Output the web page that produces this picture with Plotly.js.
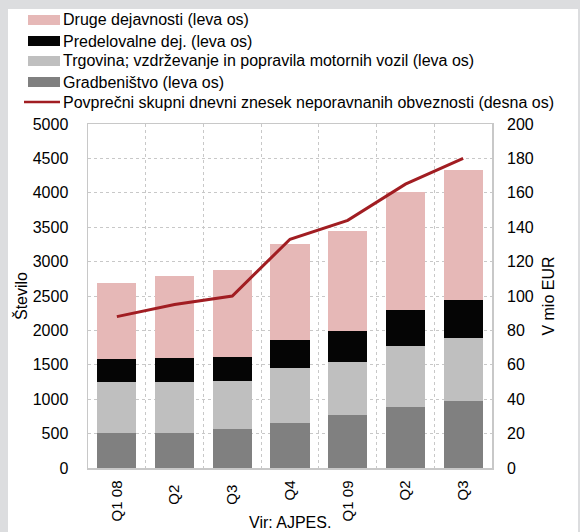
<!DOCTYPE html>
<html>
<head>
<meta charset="utf-8">
<script src="https://cdn.plot.ly/plotly-3.0.1.min.js"></script>
<style>
html,body{margin:0;padding:0;background:#dcdddf;width:580px;height:532px;overflow:hidden;}
#chart{position:absolute;left:8px;top:9px;width:570px;height:523px;background:#fff;}
</style>
</head>
<body>
<div id="chart"></div>
<script>
const categories = ["Q1 08", "Q2 ", "Q3 ", "Q4", "Q1 09", "Q2", "Q3"];
const gradbenistvo = [510, 510, 570, 660, 765, 890, 975];
const trgovina = [735, 735, 700, 795, 770, 880, 920];
const predelovalne = [335, 355, 350, 400, 460, 520, 545];
const druge = [1110, 1190, 1260, 1400, 1450, 1720, 1885];
const povprecni = [88, 95, 100, 133, 144, 165, 180];

const seriesNames = [
  "Druge dejavnosti (leva os)",
  "Predelovalne dej. (leva os)",
  "Trgovina; vzdrževanje in popravila motornih vozil (leva os)",
  "Gradbeništvo (leva os)",
  "Povprečni skupni dnevni znesek neporavnanih obveznosti (desna os)"
];
const colors = ["#e6b8b7", "#050505", "#bfbfbf", "#808080", "#a11d22"];

const font = "Liberation Sans, Arial, sans-serif";
const fs = 16;

const traces = [
  {type:"bar", x:categories, y:gradbenistvo, name:seriesNames[3], marker:{color:colors[3]}, showlegend:false},
  {type:"bar", x:categories, y:trgovina, name:seriesNames[2], marker:{color:colors[2]}, showlegend:false},
  {type:"bar", x:categories, y:predelovalne, name:seriesNames[1], marker:{color:colors[1]}, showlegend:false},
  {type:"bar", x:categories, y:druge, name:seriesNames[0], marker:{color:colors[0]}, showlegend:false},
  {type:"scatter", mode:"lines", x:categories, y:povprecni, yaxis:"y2", name:seriesNames[4], line:{color:colors[4], width:3}, showlegend:false}
];

// Manual legend (swatches + labels), positions in pixels converted to paper coords
const L = 80, T = 115, W = 570 - 80 - 86, H = 523 - 115 - 64;
const px = v => (v - 8 - L) / W;
const py = v => (T + H - (v - 9)) / H;
const shapes = [];
const annotations = [];
const legendY = [20, 41, 61, 82, 102];
for (let i = 0; i < 5; i++) {
  const yc = legendY[i];
  if (i < 4) {
    shapes.push({type:"rect", xref:"paper", yref:"paper", x0:px(28), x1:px(60), y0:py(yc-5), y1:py(yc+5), fillcolor:colors[i], line:{width:0}});
  } else {
    shapes.push({type:"line", xref:"paper", yref:"paper", x0:px(24), x1:px(60), y0:py(yc), y1:py(yc), line:{color:colors[4], width:2.5}});
  }
  annotations.push({xref:"paper", yref:"paper", x:px(61), y:py(yc), xanchor:"left", yanchor:"middle", showarrow:false, text:seriesNames[i], font:{family:font, size:fs, color:"#000"}});
}
annotations.push({xref:"paper", yref:"paper", x:0.5, y:py(522), xanchor:"center", yanchor:"middle", showarrow:false, text:"Vir: AJPES.", font:{family:font, size:fs, color:"#000"}});

const layout = {
  width:570, height:523,
  margin:{l:L, r:86, t:T, b:64},
  paper_bgcolor:"#fff", plot_bgcolor:"#fff",
  barmode:"stack", bargap:0.32,
  font:{family:font, size:fs, color:"#000"},
  showlegend:false,
  xaxis:{type:"category", tickson:"boundaries", ticks:"", tickangle:-90, showgrid:true, gridcolor:"#c8c8c8", griddash:"dot", gridwidth:1,
         showline:true, linecolor:"#c8c8c8", linewidth:1.5, mirror:true, tickfont:{family:font, size:15}, ticklabelstandoff:5},
  yaxis:{range:[0,5000], dtick:500, showgrid:true, gridcolor:"#c8c8c8", griddash:"dot", gridwidth:1, zeroline:false,
         showline:true, linecolor:"#c8c8c8", linewidth:1.5, mirror:true, ticks:"", ticklabelstandoff:15,
         title:{text:"Število", font:{family:font, size:fs}, standoff:1}, tickfont:{family:font, size:fs}},
  yaxis2:{overlaying:"y", side:"right", range:[0,200], dtick:20, showgrid:false, zeroline:false, ticks:"", showline:false,
          ticklabelstandoff:14, title:{text:"V mio EUR", font:{family:font, size:fs}, standoff:10}, tickfont:{family:font, size:fs}},
  shapes:shapes, annotations:annotations
};

Plotly.newPlot("chart", traces, layout, {displayModeBar:false, staticPlot:true});
</script>
</body>
</html>
